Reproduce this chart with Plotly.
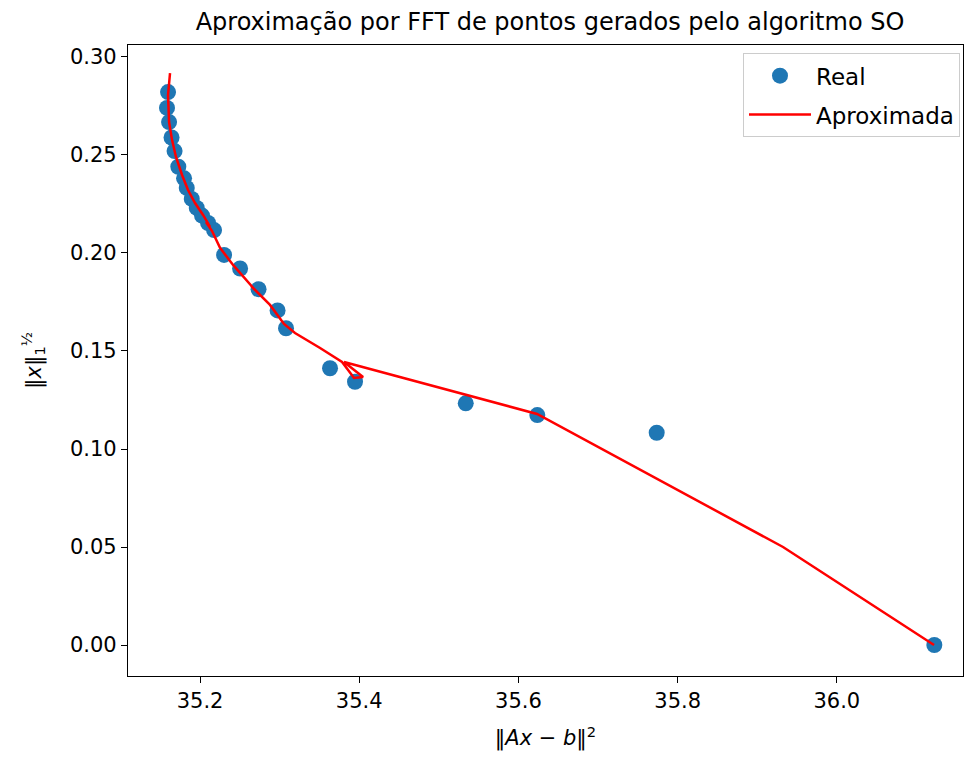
import plotly.graph_objects as go

# Real points
real_x = [35.1598, 35.1585, 35.1611, 35.1642, 35.1680, 35.1727, 35.1799, 35.1833,
          35.1896, 35.1959, 35.2025, 35.2101, 35.2176, 35.2302, 35.2503, 35.2735,
          35.2974, 35.3080, 35.3633, 35.3947, 35.5338, 35.6237, 35.7737, 36.1225]
real_y = [0.2821, 0.2740, 0.2668, 0.2589, 0.2520, 0.2440, 0.2381, 0.2332,
          0.2276, 0.2230, 0.2191, 0.2153, 0.2117, 0.1990, 0.1921, 0.1815,
          0.1707, 0.1616, 0.1412, 0.1343, 0.1233, 0.1173, 0.1083, 0.0000]

# Approximated (FFT) curve
approx_x = [35.1623, 35.1598, 35.1611, 35.1648, 35.1698, 35.1774, 35.1849, 35.1937,
            35.2038, 35.2126, 35.2075, 35.2151, 35.2251, 35.2415, 35.2691, 35.2641,
            35.2716, 35.2879, 35.3055, 35.3193, 35.3508, 35.3784, 35.3935, 35.4048,
            35.3809, 35.6234, 35.9324, 36.1221]
approx_y = [0.2918, 0.2806, 0.2668, 0.2577, 0.2490, 0.2398, 0.2321, 0.2255,
            0.2194, 0.2133, 0.2158, 0.2112, 0.2026, 0.1939, 0.1811, 0.1832,
            0.1801, 0.1735, 0.1638, 0.1592, 0.1515, 0.1444, 0.1362, 0.1367,
            0.1444, 0.1179, 0.0500, 0.0000]

x_ticks = [35.2, 35.4, 35.6, 35.8, 36.0]
x_tick_labels = ["35.2", "35.4", "35.6", "35.8", "36.0"]
y_ticks = [0.00, 0.05, 0.10, 0.15, 0.20, 0.25, 0.30]
y_tick_labels = ["0.00", "0.05", "0.10", "0.15", "0.20", "0.25", "0.30"]

FONT = "DejaVu Sans"

fig = go.Figure()
fig.add_trace(go.Scatter(
    x=real_x, y=real_y, mode="markers", name="Real", legendgroup="real",
    marker=dict(color="#1f77b4", size=16, line=dict(width=0)),
))
fig.add_trace(go.Scatter(
    x=approx_x, y=approx_y, mode="lines", name="Aproximada", legendgroup="aprox",
    line=dict(color="red", width=2.5),
))

axis_common = dict(
    showgrid=False, zeroline=False, showline=True, linecolor="black",
    linewidth=1.2, mirror=True, ticks="outside", ticklen=6, tickwidth=1.2,
    tickcolor="black", tickfont=dict(family=FONT, size=21, color="black"),
)

fig.update_layout(
    width=966, height=761,
    margin=dict(l=128, r=3, t=45, b=85),
    paper_bgcolor="white", plot_bgcolor="white",
    font=dict(family=FONT, color="black"),
    title=dict(
        text="Aproximação por FFT de pontos gerados pelo algoritmo SO",
        x=550 / 966, xanchor="center", y=1 - 22 / 761, yanchor="middle",
        font=dict(family=FONT, size=24, color="black"),
    ),
    xaxis=dict(
        range=[35.1095, 36.1585], tickvals=x_ticks, ticktext=x_tick_labels,
        title=dict(text="‖<i>Ax</i> − <i>b</i>‖<sup>2</sup>",
                   font=dict(family=FONT, size=21), standoff=18),
        **axis_common,
    ),
    yaxis=dict(
        range=[-0.0158, 0.3061], tickvals=y_ticks, ticktext=y_tick_labels,
        title=dict(text="‖<i>x</i>‖<sub>1</sub><sup>½</sup>",
                   font=dict(family=FONT, size=21), standoff=22),
        **axis_common,
    ),
    legend=dict(
        x=0.9964, y=0.987, xanchor="right", yanchor="top",
        bgcolor="rgba(255,255,255,0.8)", bordercolor="#cccccc", borderwidth=1,
        font=dict(family=FONT, size=23, color="black"),
        itemwidth=62, tracegroupgap=6,
    ),
    showlegend=True,
)

fig.write_html("out.html")
